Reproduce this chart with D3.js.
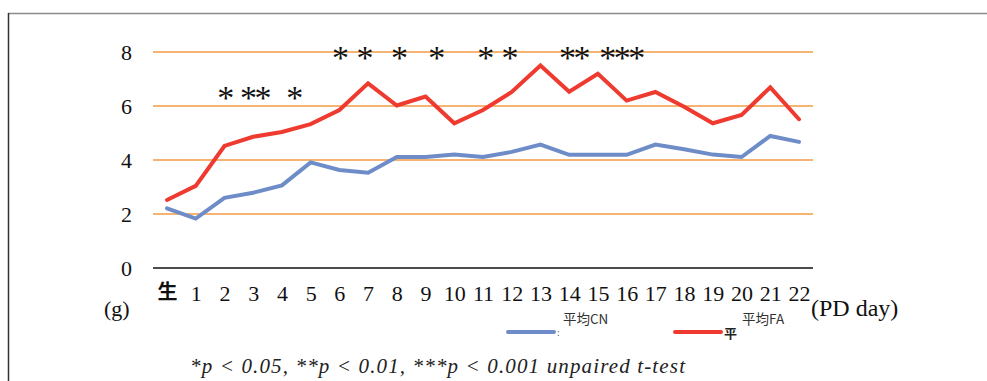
<!DOCTYPE html>
<html>
<head>
<meta charset="utf-8">
<script src="https://cdn.jsdelivr.net/npm/d3@7"></script>
<style>
  html, body { margin: 0; padding: 0; background: #fff; }
  svg { display: block; }
  .serif { font-family: "Liberation Serif", "DejaVu Serif", serif; }
  .cjk { font-family: "Noto Sans CJK JP", sans-serif; }
</style>
</head>
<body>
<svg id="chart" width="987" height="381"></svg>
<script>
// Day labels (birth day "生", then postnatal days 1–22)
const days = ["生", "1", "2", "3", "4", "5", "6", "7", "8", "9", "10", "11",
  "12", "13", "14", "15", "16", "17", "18", "19", "20", "21", "22"];

// Mean body weight (g) per group
const meanCN = [2.21, 1.83, 2.6, 2.79, 3.06, 3.91, 3.63, 3.53, 4.11, 4.11, 4.2, 4.11,
  4.3, 4.57, 4.19, 4.19, 4.19, 4.57, 4.4, 4.2, 4.11, 4.89, 4.67];
const meanFA = [2.52, 3.04, 4.52, 4.86, 5.04, 5.33, 5.85, 6.84, 6.02, 6.35, 5.36, 5.85,
  6.52, 7.5, 6.53, 7.19, 6.2, 6.52, 5.97, 5.36, 5.67, 6.69, 5.51];

const yTicks = [0, 2, 4, 6, 8];

// Significance marks: position along the day axis (index) and row
const sigPos = [2, 3.05, 4.4, 6, 6.85, 8.05, 9.35, 11.05, 11.9, 14.15, 15.8];
const sigText = ["*", "**", "*", "*", "*", "*", "*", "*", "*", "**", "***"];
const sigRow = [2, 2, 2, 1, 1, 1, 1, 1, 1, 1, 1];

const seriesNames = ["平均CN", "平均FA"];
const seriesColors = ["#6E8DC8", "#EE3A2F"];

const svg = d3.select("#chart");

// Frame lines
svg.append("line").attr("x1", 8).attr("x2", 987).attr("y1", 13.5).attr("y2", 13.5)
  .attr("stroke", "#8a8a8a").attr("stroke-width", 1.5);
svg.append("line").attr("x1", 8.5).attr("x2", 8.5).attr("y1", 13).attr("y2", 381)
  .attr("stroke", "#333").attr("stroke-width", 1.5);

const plotLeft = 153, plotRight = 813;
const x = d3.scaleLinear().domain([0, days.length - 1]).range([167, 799]);
const y = d3.scaleLinear().domain([0, 8]).range([268, 52]);

// Gridlines
svg.append("g").selectAll("line").data(yTicks.filter(d => d > 0)).join("line")
  .attr("x1", plotLeft).attr("x2", plotRight)
  .attr("y1", d => y(d)).attr("y2", d => y(d))
  .attr("stroke", "#F29B45").attr("stroke-width", 1.5);

// Zero line
svg.append("line").attr("x1", plotLeft).attr("x2", plotRight)
  .attr("y1", y(0)).attr("y2", y(0)).attr("stroke", "#111").attr("stroke-width", 1.5);

// Y axis labels
const yAxis = d3.axisLeft(y).tickValues(yTicks).tickSize(0).tickPadding(0);
const gy = svg.append("g").attr("transform", "translate(132,0)").call(yAxis)
  .attr("font-family", null).attr("font-size", null);
gy.select(".domain").remove();
gy.selectAll("text").attr("class", "serif").style("font-size", "22px").attr("fill", "#111");

// X axis labels
const xAxis = d3.axisBottom(x).tickValues(d3.range(days.length))
  .tickFormat(i => days[i]).tickSize(0).tickPadding(0);
const gx = svg.append("g").attr("transform", "translate(0,285)").call(xAxis)
  .attr("font-family", null).attr("font-size", null);
gx.select(".domain").remove();
gx.selectAll("text").attr("class", d => d === 0 ? "cjk" : "serif")
  .style("font-size", d => d === 0 ? "20px" : "22px").attr("fill", "#111")
  .style("font-weight", d => d === 0 ? 700 : 400);

// Unit labels
svg.append("text").attr("class", "serif").attr("x", 104).attr("y", 316).text("(g)")
  .style("font-size", "22px").attr("fill", "#111");
svg.append("text").attr("class", "serif").attr("x", 811).attr("y", 316).text("(PD day)")
  .style("font-size", "24px").attr("fill", "#111");

// Series lines
const line = d3.line().x((d, i) => x(i)).y(d => y(d));
[meanCN, meanFA].forEach((vals, k) => {
  svg.append("path").datum(vals).attr("d", line)
    .attr("fill", "none").attr("stroke", seriesColors[k])
    .attr("stroke-width", 4).attr("stroke-linejoin", "miter").attr("stroke-linecap", "round");
});

// Significance asterisks
svg.append("g").selectAll("text").data(sigPos).join("text")
  .attr("class", "serif")
  .attr("x", d => x(d)).attr("y", (d, i) => sigRow[i] === 1 ? 69 : 109)
  .attr("text-anchor", "middle")
  .style("font-size", "34px").style("letter-spacing", "-2.5px").attr("fill", "#111")
  .text((d, i) => sigText[i]);

// Legend
const legend = svg.append("g");
const legendX = [508, 675];
legendX.forEach((lx, k) => {
  legend.append("line").attr("x1", lx).attr("x2", lx + 46).attr("y1", 332).attr("y2", 332)
    .attr("stroke", seriesColors[k]).attr("stroke-width", 4).attr("stroke-linecap", "round");
});
legend.append("text").attr("class", "cjk").attr("x", 563).attr("y", 324).text(seriesNames[0])
  .style("font-size", "13.5px").attr("fill", "#333");
legend.append("text").attr("class", "cjk").attr("x", 557).attr("y", 336).text(":")
  .style("font-size", "9px").attr("fill", "#666");
legend.append("text").attr("class", "cjk").attr("x", 742).attr("y", 324).text(seriesNames[1])
  .style("font-size", "13.5px").attr("fill", "#333");
legend.append("text").attr("class", "cjk").attr("x", 724).attr("y", 338).text("平")
  .style("font-size", "13px").style("font-weight", 700).attr("fill", "#222");

// Footnote
svg.append("text").attr("class", "serif").attr("x", 190).attr("y", 373)
  .style("font-style", "italic").style("font-size", "21px").attr("fill", "#222")
  .attr("textLength", 495).attr("lengthAdjust", "spacing")
  .text("*p < 0.05, **p < 0.01, ***p < 0.001 unpaired t-test");
</script>
</body>
</html>
